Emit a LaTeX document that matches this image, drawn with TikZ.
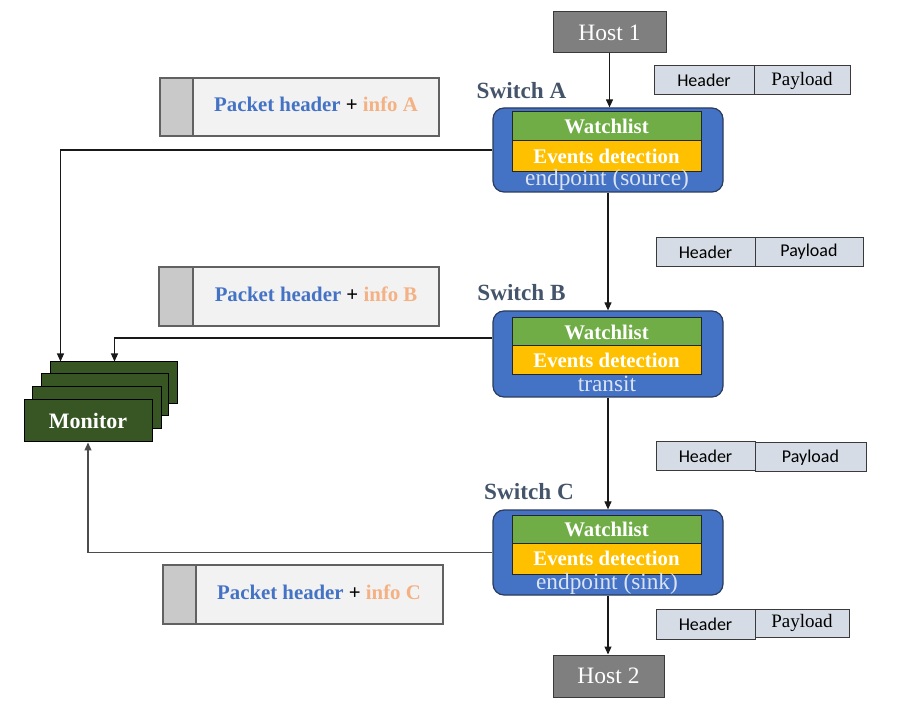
\documentclass[tikz,border=0pt]{standalone}
\usepackage{fontspec}
\setmainfont{Liberation Serif}
\newfontfamily\calfont{Carlito}
\usetikzlibrary{arrows.meta,positioning,calc}
\definecolor{swblue}{HTML}{4472C4}
\definecolor{swborder}{HTML}{2A3B5E}
\definecolor{wgreen}{HTML}{70AD47}
\definecolor{eorange}{HTML}{FFC000}
\definecolor{subtxt}{HTML}{DAE3F3}
\definecolor{mongreen}{HTML}{375623}
\definecolor{lbl}{HTML}{44546A}
\definecolor{infoor}{HTML}{F4B183}
\definecolor{hostgray}{HTML}{7F7F7F}
\definecolor{hpfill}{HTML}{D6DCE5}
\definecolor{pkfill}{HTML}{F2F2F2}
\definecolor{pkgray}{HTML}{C9C9C9}
\definecolor{darkline}{HTML}{3A3A3A}
\tikzset{
  hostbox/.style={draw=darkline, line width=1pt, fill=hostgray, text=white, inner sep=0pt, font=\fontsize{23.5}{25}\selectfont},
  swbox/.style={draw=swborder, line width=1.2pt, fill=swblue, rounded corners=11pt, inner sep=0pt},
  wbox/.style={draw=black!85, line width=1pt, fill=wgreen, text=white, inner sep=0pt, minimum width=189pt, font=\bfseries\fontsize{20.8}{22}\selectfont},
  ebox/.style={draw=black!85, line width=1pt, fill=eorange, text=white, inner sep=0pt, minimum width=189pt, font=\bfseries\fontsize{20.8}{22}\selectfont},
  subtext/.style={text=subtxt, inner sep=0pt, font=\fontsize{23.3}{25}\selectfont},
  swlabel/.style={text=lbl, inner sep=0pt, font=\bfseries\fontsize{23.2}{25}\selectfont},
  monbox/.style={draw=black, line width=1pt, fill=mongreen, minimum width=127pt, minimum height=42pt, inner sep=0pt},
  pkbox/.style={draw=darkline!80, line width=1.2pt, fill=pkfill, inner sep=0pt},
  pkgraybox/.style={draw=darkline!80, line width=1.2pt, fill=pkgray, inner sep=0pt},
  pktext/.style={inner sep=0pt, font=\bfseries\fontsize{20.8}{22}\selectfont},
  hpbox/.style={draw=darkline, line width=1pt, fill=hpfill, inner sep=0pt, minimum height=29pt},
  hdrtxt/.style={font=\calfont\fontsize{18}{20}\selectfont},
  plsans/.style={font=\calfont\fontsize{18}{20}\selectfont},
  plserif/.style={font=\fontsize{19}{20}\selectfont},
  conn/.style={line width=1.1pt, draw=black!90, -{Triangle[length=8pt,width=7pt]}},
}
\begin{document}
\begin{tikzpicture}[x=1pt,y=-1pt]
\useasboundingbox (0,0) rectangle (900,708);

% Hosts
\node[hostbox, minimum width=113pt, minimum height=41pt] (host1) at (609.5,32.5) {Host 1};
\node[hostbox, minimum width=111pt, minimum height=42pt] (host2) at (608.5,676) {Host 2};

% Switch A
\node[swbox, minimum width=230pt, minimum height=84pt] (swA) at (608,150) {};
\node[wbox, minimum height=29pt] (wA) at (606.5,126.5) {Watchlist};
\node[ebox, minimum height=31pt] (eA) at (606.5,156.5) {Events detection};
\node[subtext] (tA) at (607,180) {endpoint (source)};
\node[swlabel] (lA) at (521.5,91) {Switch A};

% Switch B
\node[swbox, minimum width=230pt, minimum height=86pt] (swB) at (608,354) {};
\node[wbox, minimum height=28pt] (wB) at (606.5,332) {Watchlist};
\node[ebox, minimum height=29pt] (eB) at (606.5,360.5) {Events detection};
\node[subtext] (tB) at (607,384) {transit};
\node[swlabel] (lB) at (521.5,293) {Switch B};

% Switch C
\node[swbox, minimum width=230pt, minimum height=85pt] (swC) at (608,552.5) {};
\node[wbox, minimum height=28pt] (wC) at (606.5,529) {Watchlist};
\node[ebox, minimum height=31pt] (eC) at (606.5,558.5) {Events detection};
\node[subtext] (tC) at (607,584) {endpoint (sink)};
\node[swlabel] (lC) at (529,492) {Switch C};

% Header / Payload rows
\node[hpbox, minimum width=100pt, hdrtxt] (h1) at (704,80.5) {Header};
\node[hpbox, minimum width=96pt, plserif] (p1) at (802,80.5) {Payload};
\node[hpbox, minimum width=99pt, hdrtxt] (h2) at (705.5,252) {Header};
\node[hpbox, minimum width=108pt, plsans] (p2) at (809,252) {Payload};
\node[hpbox, minimum width=99pt, hdrtxt] (h3) at (705.5,456.5) {Header};
\node[hpbox, minimum width=111pt, plsans] (p3) at (810.5,457.5) {Payload};
\node[hpbox, minimum width=99pt, minimum height=30pt, hdrtxt] (h4) at (705.5,624) {Header};
\node[hpbox, minimum width=94pt, minimum height=28pt, plserif] (p4) at (802,623) {Payload};

% Packet header boxes
\node[pkbox, minimum width=279pt, minimum height=58pt] (pkA) at (299.5,107) {};
\node[pkgraybox, minimum width=33pt, minimum height=58pt] (gA) at (176.5,107) {};
\node[pktext] (xA) at (316,104) {\textcolor{swblue}{Packet header} + \textcolor{infoor}{info A}};

\node[pkbox, minimum width=280pt, minimum height=59pt] (pkB) at (299,296.5) {};
\node[pkgraybox, minimum width=34pt, minimum height=59pt] (gB) at (176,296.5) {};
\node[pktext] (xB) at (316,294) {\textcolor{swblue}{Packet header} + \textcolor{infoor}{info B}};

\node[pkbox, minimum width=280pt, minimum height=59pt] (pkC) at (303,594.5) {};
\node[pkgraybox, minimum width=33pt, minimum height=59pt] (gC) at (179.5,594.5) {};
\node[pktext] (xC) at (319,592) {\textcolor{swblue}{Packet header} + \textcolor{infoor}{info C}};

% Monitor stack
\node[monbox] (m4) at (113.5,383) {};
\node[monbox] (m3) at (104.5,394.5) {};
\node[monbox, minimum width=129pt] (m2) at (96.5,407.5) {};
\node[monbox, minimum width=128pt, text=white, font=\bfseries\fontsize{22}{24}\selectfont] (m1) at (88,421) {Monitor};

% Connectors
\draw[conn] (host1.south) -- (host1.south |- swA.north);
\draw[conn] (swA.south) -- (swB.north);
\draw[conn] (swB.south) -- (swC.north);
\draw[conn] (swC.south) -- (swC.south |- host2.north);
\coordinate (mA) at ([xshift=11pt]m4.north west);
\coordinate (mB) at ([xshift=65pt]m4.north west);
\draw[conn] (swA.west) -| (mA);
\draw[conn] ([yshift=16pt]swB.west) -| (mB);
\draw[conn, draw=black!70] (swC.west) -| (m1.south);
\end{tikzpicture}
\end{document}
